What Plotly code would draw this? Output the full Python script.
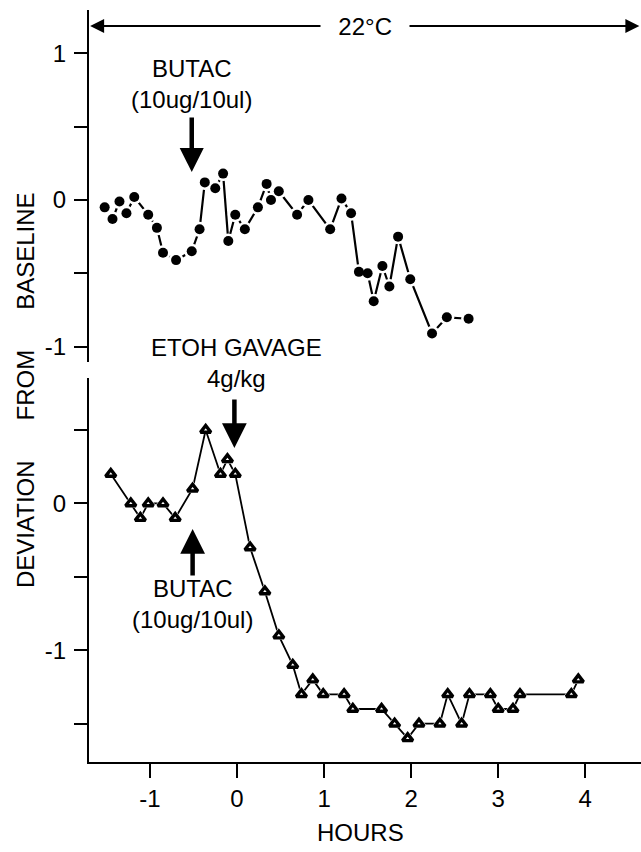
import plotly.graph_objects as go

# ---- data (hours, deviation from baseline) ----
hours_top = [-1.52, -1.43, -1.35, -1.27, -1.18, -1.02, -0.92, -0.85, -0.70, -0.52,
             -0.43, -0.37, -0.25, -0.16, -0.10, -0.02, 0.09, 0.24, 0.34, 0.39,
             0.48, 0.69, 0.82, 1.07, 1.20, 1.31, 1.40, 1.50, 1.57, 1.67,
             1.75, 1.85, 1.99, 2.24, 2.41, 2.66]
dev_top = [-0.05, -0.13, -0.01, -0.09, 0.02, -0.10, -0.19, -0.36, -0.41, -0.35,
           -0.20, 0.12, 0.08, 0.18, -0.28, -0.10, -0.20, -0.05, 0.11, 0.00,
           0.06, -0.10, 0.00, -0.20, 0.01, -0.09, -0.49, -0.50, -0.69, -0.45,
           -0.59, -0.25, -0.54, -0.91, -0.80, -0.81]

hours_bot = [-1.45, -1.22, -1.11, -1.02, -0.85, -0.71, -0.51, -0.36, -0.19, -0.11,
             -0.02, 0.15, 0.32, 0.48, 0.64, 0.74, 0.87, 0.99, 1.23, 1.33,
             1.66, 1.81, 1.96, 2.09, 2.33, 2.42, 2.58, 2.67, 2.91, 3.00,
             3.17, 3.25, 3.84, 3.92]
dev_bot = [0.2, 0.0, -0.1, 0.0, 0.0, -0.1, 0.1, 0.5, 0.2, 0.3,
           0.2, -0.3, -0.6, -0.9, -1.1, -1.3, -1.2, -1.3, -1.3, -1.4,
           -1.4, -1.5, -1.6, -1.5, -1.5, -1.3, -1.5, -1.3, -1.3, -1.4,
           -1.4, -1.3, -1.3, -1.2]

x_tickvals = [-1, 0, 1, 2, 3, 4]
x_ticktext = ["-1", "0", "1", "2", "3", "4"]
top_tickvals = [1, 0.5, 0, -0.5, -1]
top_ticktext = ["1", "", "0", "", "-1"]
bot_tickvals = [0.5, 0, -0.5, -1, -1.5]
bot_ticktext = ["", "0", "", "-1", ""]

FONT = "Liberation Sans, Arial, sans-serif"
FS = 24

fig = go.Figure()

# top panel: line, white halo, filled circles
fig.add_trace(go.Scatter(x=hours_top, y=dev_top, mode="lines",
                         line=dict(color="black", width=2.2),
                         xaxis="x2", yaxis="y2", hoverinfo="skip"))
fig.add_trace(go.Scatter(x=hours_top, y=dev_top, mode="markers",
                         marker=dict(color="white", size=15),
                         xaxis="x2", yaxis="y2", hoverinfo="skip"))
fig.add_trace(go.Scatter(x=hours_top, y=dev_top, mode="markers",
                         marker=dict(color="black", size=10, symbol="circle"),
                         xaxis="x2", yaxis="y2"))

# bottom panel: line, white halo, open triangles
fig.add_trace(go.Scatter(x=hours_bot, y=dev_bot, mode="lines",
                         line=dict(color="black", width=1.8),
                         xaxis="x", yaxis="y", hoverinfo="skip"))
fig.add_trace(go.Scatter(x=hours_bot, y=dev_bot, mode="markers",
                         marker=dict(color="white", size=16, symbol="triangle-up"),
                         xaxis="x", yaxis="y", hoverinfo="skip"))
fig.add_trace(go.Scatter(x=hours_bot, y=dev_bot, mode="markers",
                         marker=dict(color="white", size=9, symbol="triangle-up",
                                     line=dict(color="black", width=3.4)),
                         xaxis="x", yaxis="y"))

P_TOP, P_BOT = 10, 762
H = P_BOT - P_TOP


def py(p):
    return (P_BOT - p) / H


TXT = dict(showarrow=False, xanchor="center", yanchor="middle",
           font=dict(size=FS, color="black", family=FONT))
ARR = dict(showarrow=True, text="", arrowhead=2, arrowcolor="black",
           xanchor="center", yanchor="middle")

GAP = "\u00a0" * 6
annotations = [
    # 22°C double arrow
    dict(xref="paper", yref="paper", x=0.002, y=py(26), ax=270, ay=0,
         arrowsize=1.4, arrowwidth=2, **ARR),
    dict(xref="paper", yref="paper", x=0.997, y=py(26), ax=-270, ay=0,
         arrowsize=1.4, arrowwidth=2, **ARR),
    dict(xref="paper", yref="paper", x=(365 - 89) / 552, y=py(26),
         text="\u00a0\u00a022°C\u00a0\u00a0", bgcolor="white", borderpad=4, **TXT),
    # top BUTAC
    dict(xref="x", yref="paper", x=-0.52, y=py(172), ax=0, ay=-56,
         arrowsize=1.07, arrowwidth=4.5, **ARR),
    dict(xref="x", yref="paper", x=-0.52, y=py(84), text="BUTAC<br>(10ug/10ul)", **TXT),
    # ETOH gavage
    dict(xref="x", yref="paper", x=-0.03, y=py(448), ax=0, ay=-50,
         arrowsize=1.1, arrowwidth=4.5, **ARR),
    dict(xref="x", yref="paper", x=-0.01, y=py(363), text="ETOH GAVAGE<br>4g/kg", **TXT),
    # bottom BUTAC
    dict(xref="x", yref="paper", x=-0.51, y=py(529), ax=0, ay=48,
         arrowsize=1.1, arrowwidth=4.5, **ARR),
    dict(xref="x", yref="paper", x=-0.51, y=py(604), text="BUTAC<br>(10ug/10ul)", **TXT),
    # axis titles
    dict(xref="paper", yref="paper", x=(360 - 89) / 552, y=py(832), text="HOURS", **TXT),
    dict(xref="paper", yref="paper", x=(26 - 89) / 552, y=py(390),
         text="DEVIATION" + GAP + "FROM" + GAP + "BASELINE", textangle=-90, **TXT),
]

axis_common = dict(showgrid=False, zeroline=False, showline=True, linecolor="black",
                   linewidth=2, ticks="outside", tickcolor="black", tickwidth=2,
                   tickfont=dict(size=FS, color="black", family=FONT))

fig.update_layout(
    width=641, height=852,
    margin=dict(l=89, r=0, t=10, b=90),
    paper_bgcolor="white", plot_bgcolor="white",
    showlegend=False,
    font=dict(family=FONT, color="black"),
    xaxis=dict(range=[-1.70, 4.64], domain=[0, 1], anchor="y",
               tickvals=x_tickvals, ticktext=x_ticktext, ticklen=14,
               ticklabelstandoff=0, **axis_common),
    xaxis2=dict(matches="x", anchor="y2", visible=False, domain=[0, 1]),
    yaxis=dict(range=[-1.761, 0.854], domain=[0, 0.5106], anchor="x",
               tickvals=bot_tickvals, ticktext=bot_ticktext, ticklen=13,
               ticklabelstandoff=3, **axis_common),
    yaxis2=dict(range=[-1.105, 1.296], domain=[0.5319, 1], anchor="x2",
                tickvals=top_tickvals, ticktext=top_ticktext, ticklen=13,
                ticklabelstandoff=3, **axis_common),
    annotations=annotations,
)

fig.write_html("out.html", config={"displayModeBar": False},
               post_script="document.body.style.margin='0';document.body.style.overflow='hidden';")
